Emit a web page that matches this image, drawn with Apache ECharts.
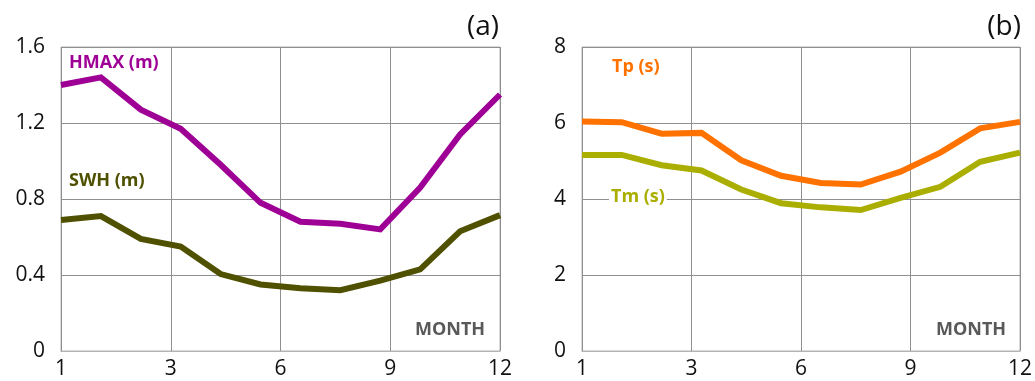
<!DOCTYPE html>
<html>
<head>
<meta charset="utf-8">
<script src="https://cdn.jsdelivr.net/npm/echarts@6/dist/echarts.min.js"></script>
<style>
  html, body { margin: 0; padding: 0; background: #fff; }
  #chart { width: 1035px; height: 381px; }
</style>
</head>
<body>
<div id="chart"></div>
<script>
// Monthly means, January .. December
const months = ['1', '2', '3', '4', '5', '6', '7', '8', '9', '10', '11', '12'];
const monthTickLabels = ['1', '3', '6', '9', '12'];

// Panel (a): wave heights in metres
const hmax = [1.40, 1.44, 1.27, 1.17, 0.98, 0.78, 0.68, 0.67, 0.64, 0.86, 1.14, 1.35];
const swh  = [0.69, 0.71, 0.59, 0.55, 0.405, 0.35, 0.33, 0.32, 0.37, 0.43, 0.63, 0.715];

// Panel (b): wave periods in seconds
const tp = [6.04, 6.02, 5.72, 5.74, 5.02, 4.61, 4.42, 4.38, 4.72, 5.22, 5.86, 6.03];
const tm = [5.16, 5.16, 4.89, 4.75, 4.25, 3.89, 3.78, 3.71, 4.03, 4.32, 4.98, 5.22];

const heightTicks = { min: 0, max: 1.6, interval: 0.4 };
const periodTicks = { min: 0, max: 8, interval: 2 };

const FONT = '"Open Sans", "DejaVu Sans", sans-serif';
const GRID_COLOR = '#8f8f8f';
const FRAME_COLOR = '#b4b4b4';

function dataAxis(gridIndex) {
  return {
    type: 'category', gridIndex: gridIndex, data: months,
    boundaryGap: false, position: 'top', show: false
  };
}

function tickAxis(gridIndex) {
  return {
    type: 'value', gridIndex: gridIndex, position: 'bottom',
    min: 0, max: monthTickLabels.length - 1, interval: 1,
    axisLine: { show: true, lineStyle: { color: FRAME_COLOR, width: 1 } },
    axisTick: { show: false },
    splitLine: { show: true, lineStyle: { color: GRID_COLOR, width: 1 } },
    axisLabel: {
      margin: 8, fontSize: 21, fontFamily: FONT, color: '#111',
      formatter: v => monthTickLabels[Math.round(v)]
    }
  };
}

function valueAxis(gridIndex, ticks) {
  return {
    type: 'value', gridIndex: gridIndex,
    min: ticks.min, max: ticks.max, interval: ticks.interval,
    axisLine: { show: false }, axisTick: { show: false },
    splitLine: { show: true, lineStyle: { color: GRID_COLOR, width: 1 } },
    axisLabel: { margin: 16, fontSize: 21, fontFamily: FONT, color: '#111' }
  };
}

function lineSeries(name, data, color, xAxisIndex, yAxisIndex) {
  return {
    name: name, type: 'line', data: data,
    xAxisIndex: xAxisIndex, yAxisIndex: yAxisIndex,
    symbol: 'none', smooth: false, z: 5,
    lineStyle: { color: color, width: 6, join: 'miter' },
    animation: false
  };
}

// Text placed by its left (or right) edge and vertical centre
function label(text, x, y, color, size, bold, opts) {
  opts = opts || {};
  const style = {
    text: text, fill: color, font: (bold ? 'bold ' : '') + size + 'px ' + FONT,
    align: opts.align || 'left', verticalAlign: 'middle'
  };
  if (opts.bg) { style.backgroundColor = '#fff'; style.padding = [0, 2]; }
  return { type: 'text', x: x, y: y, z: 10, style: style };
}

const chart = echarts.init(document.getElementById('chart'), null, { renderer: 'canvas' });
chart.setOption({
  backgroundColor: '#fff',
  animation: false,
  grid: [
    { left: 61, top: 47, width: 439, height: 304, show: true, borderColor: FRAME_COLOR, borderWidth: 1 },
    { left: 582, top: 47, width: 438, height: 304, show: true, borderColor: FRAME_COLOR, borderWidth: 1 }
  ],
  xAxis: [dataAxis(0), tickAxis(0), dataAxis(1), tickAxis(1)],
  yAxis: [valueAxis(0, heightTicks), valueAxis(1, periodTicks)],
  series: [
    lineSeries('HMAX (m)', hmax, '#9e0096', 0, 0),
    lineSeries('SWH (m)', swh, '#4f5000', 0, 0),
    lineSeries('Tp (s)', tp, '#ff7200', 2, 1),
    lineSeries('Tm (s)', tm, '#aaae00', 2, 1)
  ],
  graphic: [
    label('HMAX (m)', 69, 63, '#9e0096', 18, true),
    label('SWH (m)', 69, 181, '#4f5000', 18, true),
    label('MONTH', 415, 330, '#595959', 18, true),
    label('(a)', 499, 27, '#111', 28, false, { align: 'right' }),
    label('Tp (s)', 612, 67, '#ff7200', 18, true),
    label('Tm (s)', 609, 197, '#aaae00', 18, true, { bg: true }),
    label('MONTH', 936, 330, '#595959', 18, true),
    label('(b)', 1021, 27, '#111', 28, false, { align: 'right' })
  ]
});
</script>
</body>
</html>
